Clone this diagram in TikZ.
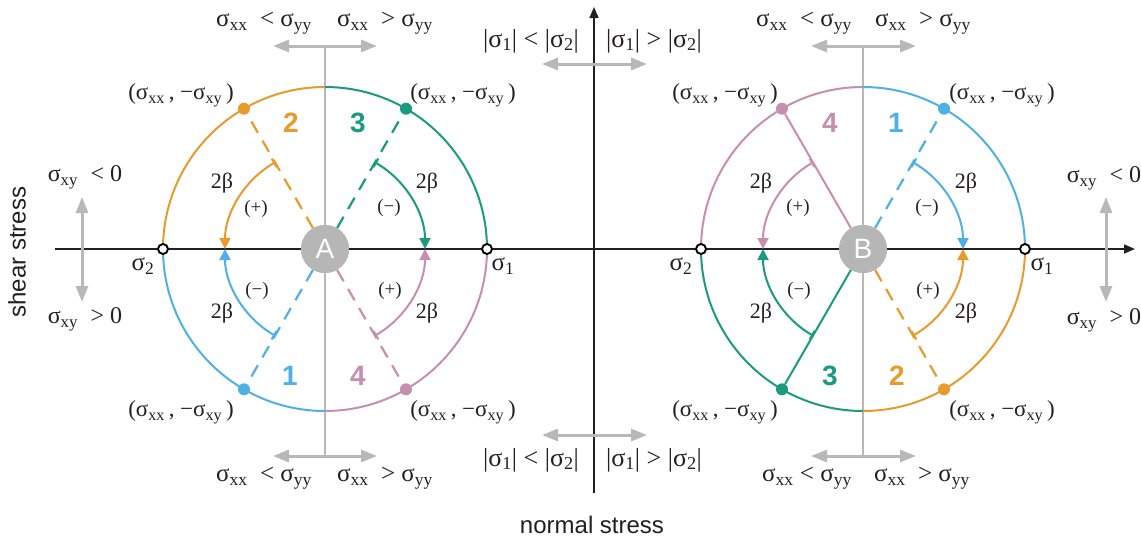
\documentclass[tikz,border=0pt]{standalone}
\usepackage{fontspec}
\setmainfont{Liberation Serif}
\setsansfont{Liberation Sans}
\usetikzlibrary{arrows.meta,calc}
\definecolor{corange}{RGB}{232,155,44}
\definecolor{cteal}{RGB}{26,155,125}
\definecolor{cblue}{RGB}{79,177,227}
\definecolor{cpink}{RGB}{198,143,175}
\definecolor{cgray}{RGB}{184,184,184}
\definecolor{cnode}{RGB}{182,182,182}
\definecolor{txt}{RGB}{35,31,32}
\newcommand{\sg}[1]{σ\textsubscript{#1}}
\begin{document}
\begin{tikzpicture}[x=1pt,y=1pt,
  lbl/.style={font=\fontsize{25}{27}\selectfont, text=txt, inner sep=0pt},
  mlbl/.style={font=\fontsize{26}{28}\selectfont, text=txt, inner sep=0pt},
  plbl/.style={font=\fontsize{23}{25}\selectfont, text=txt, inner sep=0pt},
  slbl/.style={font=\fontsize{24}{26}\selectfont, text=txt, inner sep=0pt},
  bet/.style={font=\fontsize{22}{24}\selectfont, text=txt, inner sep=0pt},
  sgn/.style={font=\fontsize{19}{21}\selectfont, text=txt, inner sep=0pt},
  num/.style={font=\sffamily\bfseries\fontsize{28}{30}\selectfont, inner sep=0pt},
  axlbl/.style={font=\sffamily\fontsize{24}{26}\selectfont, text=txt, inner sep=0pt},
  garrow/.style={draw=cgray, line width=3pt, {Triangle[width=12pt,length=16pt]}-{Triangle[width=12pt,length=16pt]}},
  gline/.style={draw=cgray, line width=2pt},
  axis/.style={draw=txt, line width=1.6pt},
  oarc/.style={line width=2pt},
  dline/.style={line width=2.2pt, dash pattern=on 13pt off 9pt},
  sline/.style={line width=2pt},
  iarc/.style={line width=2pt, {Bar[width=10pt,line width=2pt]}-{Triangle[width=11pt,length=11pt]}},
  dot/.style={circle, inner sep=0pt, minimum size=12pt},
  omark/.style={circle, draw=black, fill=white, line width=1.9pt, inner sep=0pt, minimum size=10pt},
  cnodest/.style={circle, fill=cnode, text=white, inner sep=0pt, minimum size=48pt, font=\sffamily\fontsize{28}{30}\selectfont}
]
\useasboundingbox (0,0) rectangle (1141,-544);

\coordinate (cA) at (325,-249);
\coordinate (cB) at (863,-249);

% axes
\coordinate (xs) at (55,-249);
\coordinate (xe) at (1135,-249);
\coordinate (ys) at (594,-493);
\coordinate (ye) at (594,-7);
\draw[axis, -{Triangle[width=9pt,length=11pt]}] (xs) -- (xe);
\draw[axis, -{Triangle[width=9pt,length=11pt]}] (ys) -- (ye);

% gray guides
\coordinate (gAt) at (325,-46);
\coordinate (gAb) at (325,-456);
\coordinate (gBt) at (863,-46);
\coordinate (gBb) at (863,-456);
\draw[gline] (gAt) -- (gAb);
\draw[gline] (gBt) -- (gBb);
\coordinate (a1) at (273,-46); \coordinate (a2) at (377,-46);
\coordinate (a3) at (273,-456); \coordinate (a4) at (377,-456);
\coordinate (b1) at (811,-46); \coordinate (b2) at (916,-46);
\coordinate (b3) at (811,-456); \coordinate (b4) at (916,-456);
\coordinate (m1) at (542,-64); \coordinate (m2) at (647,-64);
\coordinate (m3) at (542,-435); \coordinate (m4) at (647,-435);
\coordinate (v1) at (82,-197); \coordinate (v2) at (82,-302);
\coordinate (v3) at (1106,-197); \coordinate (v4) at (1106,-302);
\draw[garrow] (a1) -- (a2);
\draw[garrow] (a3) -- (a4);
\draw[garrow] (b1) -- (b2);
\draw[garrow] (b3) -- (b4);
\draw[garrow] (m1) -- (m2);
\draw[garrow] (m3) -- (m4);
\draw[garrow] (v1) -- (v2);
\draw[garrow] (v3) -- (v4);

% outer arcs, circle A
\draw[oarc, corange] ([shift={(90:162)}]cA) arc[start angle=90, end angle=180, radius=162];
\draw[oarc, cteal] ([shift={(0:162)}]cA) arc[start angle=0, end angle=90, radius=162];
\draw[oarc, cblue] ([shift={(180:162)}]cA) arc[start angle=180, end angle=270, radius=162];
\draw[oarc, cpink] ([shift={(270:162)}]cA) arc[start angle=270, end angle=360, radius=162];
% outer arcs, circle B
\draw[oarc, cpink] ([shift={(90:162)}]cB) arc[start angle=90, end angle=180, radius=162];
\draw[oarc, cblue] ([shift={(0:162)}]cB) arc[start angle=0, end angle=90, radius=162];
\draw[oarc, cteal] ([shift={(180:162)}]cB) arc[start angle=180, end angle=270, radius=162];
\draw[oarc, corange] ([shift={(270:162)}]cB) arc[start angle=270, end angle=360, radius=162];

% points on circles
\node[dot, fill=corange] (pA2) at ([shift={(120:162)}]cA) {};
\node[dot, fill=cteal] (pA3) at ([shift={(60:162)}]cA) {};
\node[dot, fill=cblue] (pA1) at ([shift={(240:162)}]cA) {};
\node[dot, fill=cpink] (pA4) at ([shift={(300:162)}]cA) {};
\node[dot, fill=cpink] (pB4) at ([shift={(120:162)}]cB) {};
\node[dot, fill=cblue] (pB1) at ([shift={(60:162)}]cB) {};
\node[dot, fill=cteal] (pB3) at ([shift={(240:162)}]cB) {};
\node[dot, fill=corange] (pB2) at ([shift={(300:162)}]cB) {};

% centre nodes
\node[cnodest] (A) at (cA) {A};
\node[cnodest] (B) at (cB) {B};

% radial lines
\draw[dline, corange] (A) -- (pA2);
\draw[dline, cteal] (A) -- (pA3);
\draw[dline, cblue] (A) -- (pA1);
\draw[dline, cpink] (A) -- (pA4);
\draw[sline, cpink] (B) -- (pB4);
\draw[dline, cblue] (B) -- (pB1);
\draw[sline, cteal] (B) -- (pB3);
\draw[dline, corange] (B) -- (pB2);

% inner arcs
\draw[iarc, corange] ([shift={(120:100)}]cA) arc[start angle=120, end angle=180, radius=100];
\draw[iarc, cteal] ([shift={(60:100)}]cA) arc[start angle=60, end angle=0, radius=100];
\draw[iarc, cblue] ([shift={(240:100)}]cA) arc[start angle=240, end angle=180, radius=100];
\draw[iarc, cpink] ([shift={(300:100)}]cA) arc[start angle=300, end angle=360, radius=100];
\draw[iarc, cpink] ([shift={(120:100)}]cB) arc[start angle=120, end angle=180, radius=100];
\draw[iarc, cblue] ([shift={(60:100)}]cB) arc[start angle=60, end angle=0, radius=100];
\draw[iarc, cteal] ([shift={(240:100)}]cB) arc[start angle=240, end angle=180, radius=100];
\draw[iarc, corange] ([shift={(300:100)}]cB) arc[start angle=300, end angle=360, radius=100];

% principal stress markers
\node[omark] (sA2) at ([shift={(180:162)}]cA) {};
\node[omark] (sA1) at ([shift={(0:162)}]cA) {};
\node[omark] (sB2) at ([shift={(180:162)}]cB) {};
\node[omark] (sB1) at ([shift={(0:162)}]cB) {};

% redraw centre nodes on top
\node[cnodest] (A2) at (cA) {A};
\node[cnodest] (B2) at (cB) {B};

% sector numbers
\node[num, text=corange] (nA2) at (291,-123) {2};
\node[num, text=cteal] (nA3) at (358,-123) {3};
\node[num, text=cblue] (nA1) at (290,-376) {1};
\node[num, text=cpink] (nA4) at (358,-376) {4};
\node[num, text=cpink] (nB4) at (830,-123) {4};
\node[num, text=cblue] (nB1) at (896,-123) {1};
\node[num, text=cteal] (nB3) at (830,-376) {3};
\node[num, text=corange] (nB2) at (897,-376) {2};

% angle labels
\node[bet] (bA1) at (222,-183) {2β};
\node[sgn] (sgA1) at (256,-209) {(+)};
\node[sgn] (sgA2) at (257,-291) {(−)};
\node[bet] (bA2) at (222,-313) {2β};
\node[bet] (bA3) at (427,-183) {2β};
\node[sgn] (sgA3) at (389,-208) {(−)};
\node[sgn] (sgA4) at (390,-291) {(+)};
\node[bet] (bA4) at (427,-313) {2β};
\node[bet] (bB1) at (761,-183) {2β};
\node[sgn] (sgB1) at (798,-208) {(+)};
\node[sgn] (sgB2) at (799,-291) {(−)};
\node[bet] (bB2) at (761,-313) {2β};
\node[bet] (bB3) at (966,-183) {2β};
\node[sgn] (sgB3) at (927,-208) {(−)};
\node[sgn] (sgB4) at (928,-291) {(+)};
\node[bet] (bB4) at (966,-313) {2β};

% principal stress labels
\node[lbl] (tA2) at (143,-266) {\sg{2}};
\node[lbl] (tA1) at (503,-266) {\sg{1}};
\node[lbl] (tB2) at (681,-266) {\sg{2}};
\node[lbl] (tB1) at (1042,-266) {\sg{1}};

% point labels
\node[plbl] (qA2) at (181,-95) {(\sg{xx}\,, −\sg{xy}\,)};
\node[plbl] (qA3) at (463,-95) {(\sg{xx}\,, −\sg{xy}\,)};
\node[plbl] (qA1) at (181,-412) {(\sg{xx}\,, −\sg{xy}\,)};
\node[plbl] (qA4) at (463,-412) {(\sg{xx}\,, −\sg{xy}\,)};
\node[plbl] (qB4) at (725,-95) {(\sg{xx}\,, −\sg{xy}\,)};
\node[plbl] (qB1) at (1002,-95) {(\sg{xx}\,, −\sg{xy}\,)};
\node[plbl] (qB3) at (725,-412) {(\sg{xx}\,, −\sg{xy}\,)};
\node[plbl] (qB2) at (1002,-412) {(\sg{xx}\,, −\sg{xy}\,)};

% comparison labels
\node[lbl] (cA1) at (264,-23) {\sg{xx}\enspace< \sg{yy}};
\node[lbl] (cA2) at (385,-23) {\sg{xx}\enspace> \sg{yy}};
\node[lbl] (cA3) at (264,-478) {\sg{xx}\enspace< \sg{yy}};
\node[lbl] (cA4) at (385,-478) {\sg{xx}\enspace> \sg{yy}};
\node[lbl] (cB1) at (804,-23) {\sg{xx}\enspace< \sg{yy}};
\node[lbl] (cB2) at (923,-23) {\sg{xx}\enspace> \sg{yy}};
\node[lbl] (cB3) at (807,-478) {\sg{xx} < \sg{yy}};
\node[lbl] (cB4) at (922,-478) {\sg{xx}\enspace> \sg{yy}};
\node[mlbl] (cm1) at (531,-41) {|\sg{1}| < |\sg{2}|};
\node[mlbl] (cm2) at (654,-41) {|\sg{1}| > |\sg{2}|};
\node[mlbl] (cm3) at (531,-460) {|\sg{1}| < |\sg{2}|};
\node[mlbl] (cm4) at (654,-460) {|\sg{1}| > |\sg{2}|};

% shear sign labels
\node[slbl] (h1) at (85,-177) {\sg{xy}\; < 0};
\node[slbl] (h2) at (85,-319) {\sg{xy}\; > 0};
\node[slbl] (h3) at (1104,-178) {\sg{xy}\; < 0};
\node[slbl] (h4) at (1104,-320) {\sg{xy}\; > 0};

% axis titles
\node[axlbl, rotate=90] (ty) at (17,-252) {shear stress};
\node[axlbl] (tx) at (592,-525) {normal stress};
\end{tikzpicture}
\end{document}
